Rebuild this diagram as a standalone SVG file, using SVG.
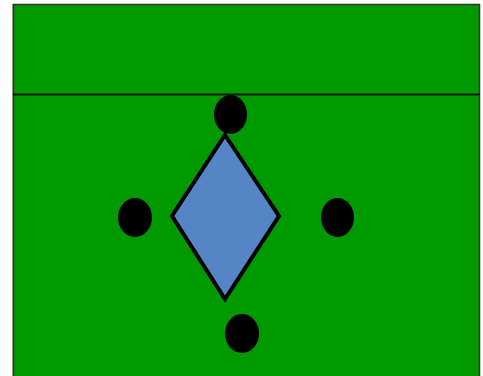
<svg xmlns="http://www.w3.org/2000/svg" width="483" height="376" viewBox="0 0 483 376">
<style>
.dot{fill:#000000}
</style>
<rect width="483" height="376" fill="#ffffff"/>
<g id="field">
<rect x="12" y="4" width="1" height="372" fill="#b0b0b0"/>
<rect x="13.5" y="4.5" width="466" height="380" fill="#009900" stroke="#333333" stroke-width="1.5"/>
<line x1="13" y1="94.5" x2="480" y2="94.5" stroke="#0a1a0a" stroke-width="2"/>
</g>
<g id="diamond">
<polygon points="225,135 279,216 225,299 172,216" fill="#5585c4" stroke="#000000" stroke-width="4" stroke-linejoin="miter"/>
</g>
<g id="dot-top"><ellipse class="dot" cx="230.5" cy="114.5" rx="16.5" ry="19.5"/></g>
<g id="dot-left"><ellipse class="dot" cx="135" cy="217.5" rx="17" ry="19.5"/></g>
<g id="dot-right"><ellipse class="dot" cx="337.5" cy="217.5" rx="16.5" ry="19.5"/></g>
<g id="dot-bottom"><ellipse class="dot" cx="242" cy="333.5" rx="17" ry="19.5"/></g>
<g id="connectors"></g>
</svg>
